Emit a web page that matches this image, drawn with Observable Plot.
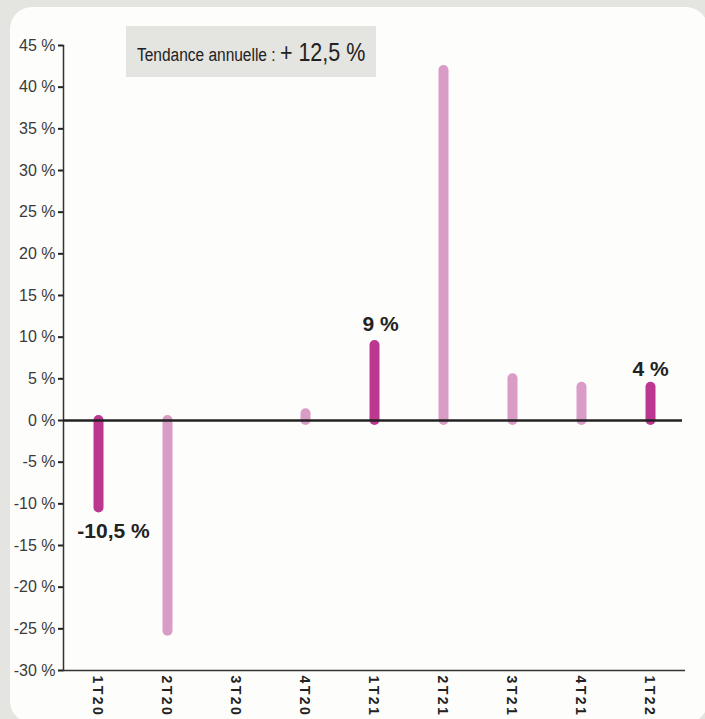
<!DOCTYPE html>
<html>
<head>
<meta charset="utf-8">
<script src="https://cdn.jsdelivr.net/npm/d3@7"></script>
<script src="https://cdn.jsdelivr.net/npm/@observablehq/plot@0.6"></script>
<style>
  html, body { margin: 0; padding: 0; }
  body { width: 705px; height: 719px; background: #e4e4e0; position: relative; overflow: hidden; }
  #panel { position: absolute; left: 10px; top: 7px; width: 698px; height: 716px; background: #fdfdfb; border-radius: 22px; }
  #trend { position: absolute; left: 126px; top: 26px; width: 250px; height: 51px; background: #e4e4e0; }
  #trend .txt { position: absolute; left: 11px; top: 14px; line-height: 25px; white-space: nowrap;
                font-family: "Liberation Sans", Arial, sans-serif; color: #222;
                transform: scaleX(0.86); transform-origin: 0 0; }
  #trend .lbl { font-size: 18px; }
  #trend .val { font-size: 25px; margin-left: 5px; }
  #chart { position: absolute; left: 0; top: 0; }
</style>
</head>
<body>
<div id="panel"></div>
<div id="trend"><div class="txt"><span class="lbl">Tendance annuelle :</span><span class="val">+ 12,5 %</span></div></div>
<div id="chart"></div>
<script>
// Quarterly change, in percent
const quarters = ["1T20", "2T20", "3T20", "4T20", "1T21", "2T21", "3T21", "4T21", "1T22"];
const changes = [-10.5, -25.3, 0, 0.8, 9, 42, 5, 4, 4];
// First quarters are drawn in the darker colour
const highlighted = ["1T20", "1T21", "1T22"];
const yTicks = [-30, -25, -20, -15, -10, -5, 0, 5, 10, 15, 20, 25, 30, 35, 40, 45];

const rows = quarters.map((q, i) => ({quarter: q, value: changes[i], dark: highlighted.includes(q)}));
const fmt = v => `${String(v).replace(".", ",")} %`;
const row = q => rows.filter(d => d.quarter === q);

const sans = "'Liberation Sans', Arial, sans-serif";
const valueLabel = {x: "quarter", y: "value", text: d => fmt(d.value), fontSize: 21, fontWeight: "bold", fontFamily: sans, fill: "#222"};

const chart = Plot.plot({
  width: 705,
  height: 719,
  marginTop: 45,
  marginBottom: 49,
  marginLeft: 63,
  marginRight: 23,
  style: {background: "transparent", overflow: "visible", color: "#222"},
  x: {type: "point", domain: quarters, range: [95, 652], padding: 0, axis: null},
  y: {domain: [-30, 45], axis: null},
  marks: [
    Plot.axisY({
      ticks: yTicks,
      tickFormat: d => `${d} %`,
      tickSize: 5,
      tickPadding: 3,
      strokeWidth: 2,
      fontSize: 16,
      fontFamily: sans,
      fill: "#3a3a3a",
      label: null
    }),
    Plot.ruleX(rows.filter(d => d.value !== 0), {
      x: "quarter",
      y1: 0,
      y2: "value",
      stroke: d => d.dark ? "#bb3790" : "#d99cc6",
      strokeWidth: 10,
      strokeLinecap: "round"
    }),
    Plot.frame({anchor: "left", stroke: "#333", strokeWidth: 1.5}),
    Plot.ruleY([-30], {stroke: "#333", strokeWidth: 1.5, insetRight: -3}),
    Plot.ruleY([0], {stroke: "#222", strokeWidth: 2.5}),
    // values written next to the first-quarter bars
    Plot.text(row("1T20"), {...valueLabel, dx: 15, dy: 23}),
    Plot.text(row("1T21"), {...valueLabel, dx: 6, dy: -21}),
    Plot.text(row("1T22"), {...valueLabel, dx: 0, dy: -18}),
    // quarter labels, written downwards under the axis
    Plot.text(quarters, {
      x: d => d,
      frameAnchor: "bottom",
      text: d => d,
      rotate: 90,
      textAnchor: "start",
      lineAnchor: "middle",
      dy: 5,
      dx: -1,
      fontSize: 14,
      fontWeight: "bold",
      fontFamily: sans,
      fill: "#222"
    })
  ]
});

// wider letter spacing on the quarter labels
d3.select(chart).selectAll("text")
  .filter(function () { return quarters.includes(this.textContent); })
  .style("letter-spacing", "2.5px");
document.getElementById("chart").appendChild(chart);
</script>
</body>
</html>
